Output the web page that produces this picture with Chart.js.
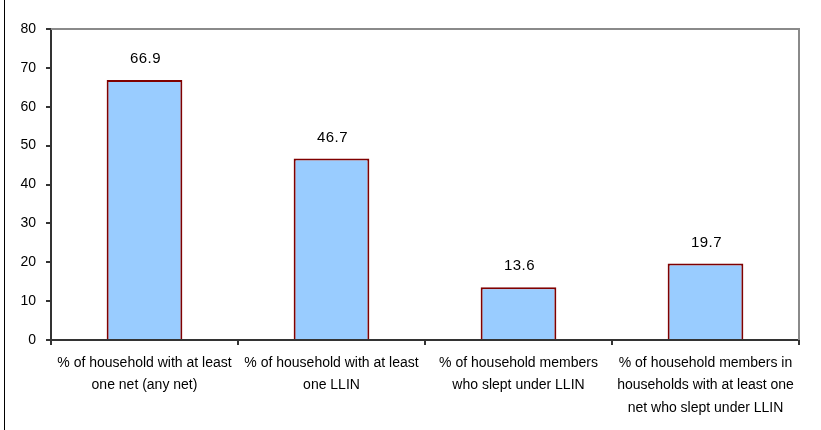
<!DOCTYPE html>
<html>
<head>
<meta charset="utf-8">
<script src="https://cdn.jsdelivr.net/npm/chart.js@4/dist/chart.umd.min.js"></script>
<style>
html, body { margin: 0; padding: 0; background: #fff; }
#wrap { position: relative; width: 821px; height: 430px; }
#edge { position: absolute; left: 4px; top: 0; width: 0; height: 430px; border-left: 1px solid #000; }
</style>
</head>
<body>
<div id="wrap">
<canvas id="netChart" width="821" height="430"></canvas>
<div id="edge"></div>
</div>
<script>
// categories (x axis labels, one line per array item)
const categories = [
  ['% of household with at least', 'one net (any net)'],
  ['% of household with at least', 'one LLIN'],
  ['% of household members', 'who slept under LLIN'],
  ['% of household members in', 'households with at least one', 'net who slept under LLIN']
];
// values
const netValues = [66.9, 46.7, 13.6, 19.7];
// y axis
const yMin = 0;
const yMax = 80;
const yStep = 10;

const FONT = '"Liberation Sans", Arial, sans-serif';

// value labels above each bar
const valueLabels = {
  id: 'valueLabels',
  afterDatasetsDraw(chart) {
    const ctx = chart.ctx;
    const meta = chart.getDatasetMeta(0);
    ctx.save();
    ctx.font = '15px ' + FONT;
    ctx.letterSpacing = '0.4px';
    ctx.fillStyle = '#000';
    ctx.textAlign = 'center';
    ctx.textBaseline = 'middle';
    meta.data.forEach((bar, i) => {
      ctx.fillText(netValues[i].toFixed(1), bar.x + 1, bar.y - 21);
    });
    ctx.restore();
  }
};

// grey frame on top and right of plot area
const plotFrame = {
  id: 'plotFrame',
  beforeDatasetsDraw(chart) {
    const a = chart.chartArea;
    const ctx = chart.ctx;
    ctx.save();
    ctx.strokeStyle = '#8a8a8a';
    ctx.lineWidth = 2;
    ctx.beginPath();
    ctx.moveTo(a.left, a.top);
    ctx.lineTo(a.right, a.top);
    ctx.lineTo(a.right, a.bottom);
    ctx.stroke();
    ctx.restore();
  }
};

new Chart(document.getElementById('netChart'), {
  type: 'bar',
  data: {
    labels: categories,
    datasets: [{
      data: netValues,
      backgroundColor: '#99ccff',
      borderColor: '#800000',
      borderWidth: 2,
      borderSkipped: 'bottom',
      barPercentage: 0.405,
      categoryPercentage: 1
    }]
  },
  options: {
    responsive: false,
    animation: false,
    layout: { padding: { top: 29, right: 22, left: 0, bottom: 0 } },
    plugins: {
      legend: { display: false },
      tooltip: { enabled: false }
    },
    scales: {
      y: {
        min: yMin,
        max: yMax,
        afterFit(scale) { scale.width = 51; },
        ticks: {
          stepSize: yStep,
          color: '#000',
          padding: 10,
          font: { family: FONT, size: 14 }
        },
        grid: { drawOnChartArea: false, drawTicks: true, tickLength: 5, color: '#333', lineWidth: 2 },
        border: { color: '#333', width: 2 }
      },
      x: {
        afterFit(scale) { scale.height = 90; },
        ticks: {
          color: '#000',
          padding: 7,
          maxRotation: 0,
          autoSkip: false,
          font: { family: FONT, size: 14, lineHeight: 1.6 }
        },
        grid: { offset: true, drawOnChartArea: false, drawTicks: true, tickLength: 5, color: '#333', lineWidth: 2 },
        border: { color: '#333', width: 2 }
      }
    }
  },
  plugins: [valueLabels, plotFrame]
});
</script>
</body>
</html>
